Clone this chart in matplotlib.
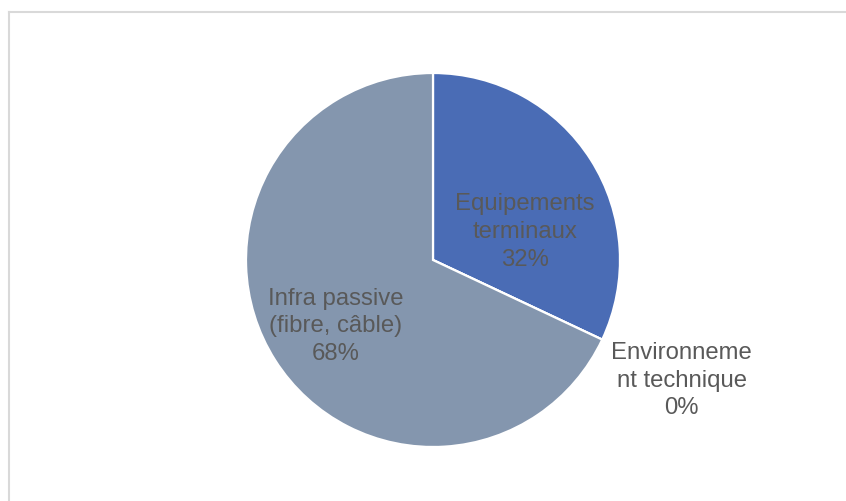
import matplotlib
matplotlib.use("Agg")
import matplotlib.pyplot as plt
from matplotlib.lines import Line2D

# share of each category, in percent
categories = ["Equipements\nterminaux", "Environneme\nnt technique", "Infra passive\n(fibre, câble)"]
shares = [32, 0, 68]
colors = ["#4A6CB5", "#A5A5A5", "#8496AE"]

# where each label sits, in units of the pie radius
label_pos = [(0.49, 0.15), (1.33, -0.645), (-0.52, -0.355)]

W, H = 846, 501
fig = plt.figure(figsize=(W / 100, H / 100), dpi=100)

cx, cy, r = 433, 260, 187
ax = fig.add_axes([(cx - r) / W, (H - cy - r) / H, 2 * r / W, 2 * r / H])
ax.pie(shares, colors=colors, startangle=90, counterclock=False, radius=1,
       wedgeprops=dict(edgecolor="white", linewidth=1.6))
ax.set_xlim(-1, 1)
ax.set_ylim(-1, 1)
ax.set_aspect("equal")
ax.axis("off")

for name, val, (x, y) in zip(categories, shares, label_pos):
    ax.text(x, y, f"{name}\n{val}%", ha="center", va="center", fontsize=17.2,
            color="#595959", family="Liberation Sans", linespacing=1.33,
            clip_on=False)

# light chart-area border (runs off the right and bottom edges)
fx = 8.5 / W
fy = 1 - 11.5 / H
fig.add_artist(Line2D([fx, 1.01], [fy, fy], color="#D9D9D9", lw=1.5, transform=fig.transFigure))
fig.add_artist(Line2D([fx, fx], [fy, -0.01], color="#D9D9D9", lw=1.5, transform=fig.transFigure))

fig.savefig("out.png", dpi=100)
